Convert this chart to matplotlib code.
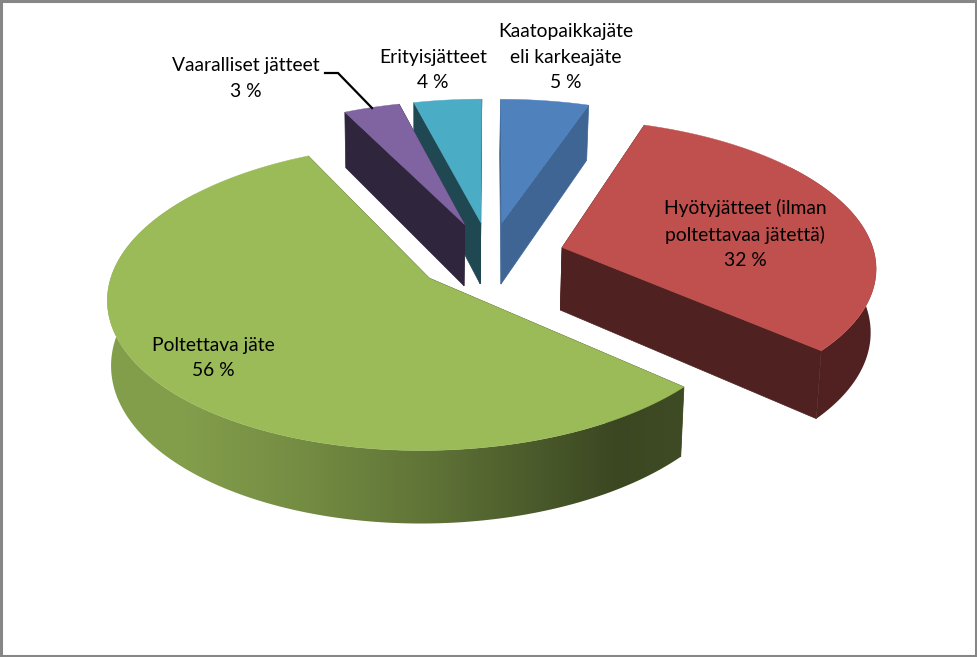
import numpy as np
import matplotlib; matplotlib.use('Agg')
import matplotlib.pyplot as plt
from matplotlib.patches import Polygon, Rectangle
from matplotlib.colors import to_rgb

labels = ['Kaatopaikkajäte\neli karkeajäte', 'Hyötyjätteet (ilman\npoltettavaa jätettä)',
          'Poltettava jäte', 'Vaaralliset jätteet', 'Erityisjätteet']
percent_text = ['5 %', '32 %', '56 %', '3 %', '4 %']
values = [5.2, 31.3, 56.2, 3.3, 4.0]
colors = ['#4f81bd', '#c0504d', '#9bbb59', '#8064a2', '#4bacc6']
wall_shade = [0.78, 0.41, 0.41, 0.37, 0.42]
label_xy = [(565.5, 57), (745, 234), (213, 358), (246, 78.5), (433, 70)]
draw_order = [4, 3, 0, 1, 2]

# view of the pie
cx, cy = 490, 256.5
rx, ry = 313, 146
persp = 0.12
depth = 63
explode = 0.24
bottom_cx = 420
bottom_shrink = 0.988

# how the rim darkens going left to right
rim_u = [-1.0, -0.6, -0.2, 0.1, 0.4, 0.8, 1.0]
rim_f = [0.85, 0.75, 0.62, 0.50, 0.38, 0.42, 0.42]


def project(u, v):
    s = 1 / (1 - persp * v)
    return cx + rx * u * s, cy + ry * v * s, s


def shade(col, f):
    return tuple(c * f for c in to_rgb(col))


fig = plt.figure(figsize=(9.77, 6.57), dpi=100)
ax = fig.add_axes([0, 0, 1, 1])

edges = np.cumsum([0] + values) * 3.6

for z, i in enumerate(draw_order):
    a0, a1 = np.radians(edges[i]), np.radians(edges[i + 1])
    mid = (a0 + a1) / 2
    ou, ov = explode * np.sin(mid), -explode * np.cos(mid)
    t = np.linspace(a0, a1, 300)
    u, v = ou + np.sin(t), ov - np.cos(t)
    x, y, s = project(u, v)
    tip_x, tip_y, tip_s = project(ou, ov)
    xb, yb = bottom_cx + (x - bottom_cx) * bottom_shrink, y + depth * s
    tip_xb, tip_yb = bottom_cx + (tip_x - bottom_cx) * bottom_shrink, tip_y + depth * tip_s

    # flat side walls
    wall = shade(colors[i], wall_shade[i])
    for k in (0, -1):
        ax.add_patch(Polygon([(tip_x, tip_y), (x[k], y[k]), (xb[k], yb[k]), (tip_xb, tip_yb)],
                             fc=wall, ec=wall, lw=0.5, zorder=1 + z))

    # rim, only the part that can face the viewer, with a left to right gradient
    front = -np.cos(t) > -0.6
    if front.any():
        rim = np.column_stack([np.r_[x[front], xb[front][::-1]], np.r_[y[front], yb[front][::-1]]])
        cols = np.linspace(rim[:, 0].min(), rim[:, 0].max(), 400)
        f = np.interp((cols - cx) / rx, rim_u, rim_f)
        strip = np.outer(f, to_rgb(colors[i]))[np.newaxis, :, :]
        im = ax.imshow(strip, extent=(cols[0], cols[-1], rim[:, 1].max(), rim[:, 1].min()),
                       aspect='auto', zorder=1 + z, interpolation='bilinear')
        im.set_clip_path(Polygon(rim, transform=ax.transData))

    # top face
    ax.add_patch(Polygon(np.column_stack([np.r_[tip_x, x], np.r_[tip_y, y]]),
                         fc=colors[i], ec=colors[i], lw=0.3, zorder=1 + z))

for i in range(len(values)):
    ax.text(label_xy[i][0], label_xy[i][1], f'{labels[i]}\n{percent_text[i]}', ha='center', va='center',
            family='Lato', fontsize=13.9, color='black', linespacing=1.58, zorder=20)

ax.plot([325, 338, 372], [73, 73, 108], color='black', lw=1.6, zorder=20, solid_joinstyle='miter')

# grey frame of the chart area
ax.add_patch(Rectangle((1, 1), 975, 655, fc='none', ec='#868686', lw=2.2, zorder=30))

ax.set_xlim(0, 977)
ax.set_ylim(657, 0)
ax.axis('off')
fig.savefig('out.png', dpi=100, facecolor='white')
